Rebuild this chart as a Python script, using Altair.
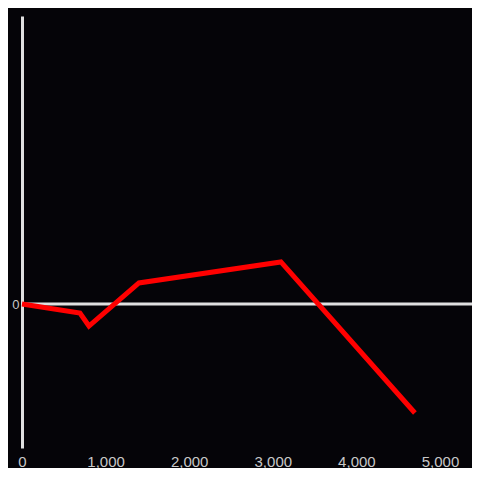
import altair as alt
import pandas as pd

xs = [0, 693, 801, 1399, 3097, 4700]
ys = [0, -0.0625, -0.153, 0.146, 0.292, -0.757]
x_ticks = [0, 1000, 2000, 3000, 4000, 5000]
y_ticks = [0]

df = pd.DataFrame({"x": xs, "y": ys})
zero = pd.DataFrame({"y": [0]})

xscale = alt.Scale(domain=[0, 5383], nice=False, zero=False)
yscale = alt.Scale(domain=[-1, 2], nice=False)

rule = alt.Chart(zero).mark_rule(color="#e0e0e0", strokeWidth=3).encode(
    y=alt.Y("y:Q", scale=yscale,
            axis=alt.Axis(values=y_ticks, ticks=False, grid=False, title=None,
                          domain=True, domainColor="#e0e0e0", domainWidth=3,
                          format="d", labelColor="#c8c8c8", labelFontSize=13,
                          labelPadding=3, labelFont="Liberation Sans")),
)

line = alt.Chart(df).mark_line(color="#ff0000", strokeWidth=5).encode(
    x=alt.X("x:Q", scale=xscale,
            axis=alt.Axis(values=x_ticks, ticks=False, grid=False, title=None,
                          domain=False, format=",d", labelColor="#c8c8c8",
                          labelFontSize=15, labelPadding=6, labelFlush=False,
                          labelFont="Liberation Sans")),
    y=alt.Y("y:Q", scale=yscale),
)

chart = alt.layer(rule, line).properties(
    width=450, height=432,
    background="#050408",
    autosize=alt.AutoSizeParams(type="none"),
    padding={"left": 14, "top": 8, "right": 0, "bottom": 20},
).configure_view(stroke=None)

chart.save("out.html", embed_options={"renderer": "svg", "actions": False})
